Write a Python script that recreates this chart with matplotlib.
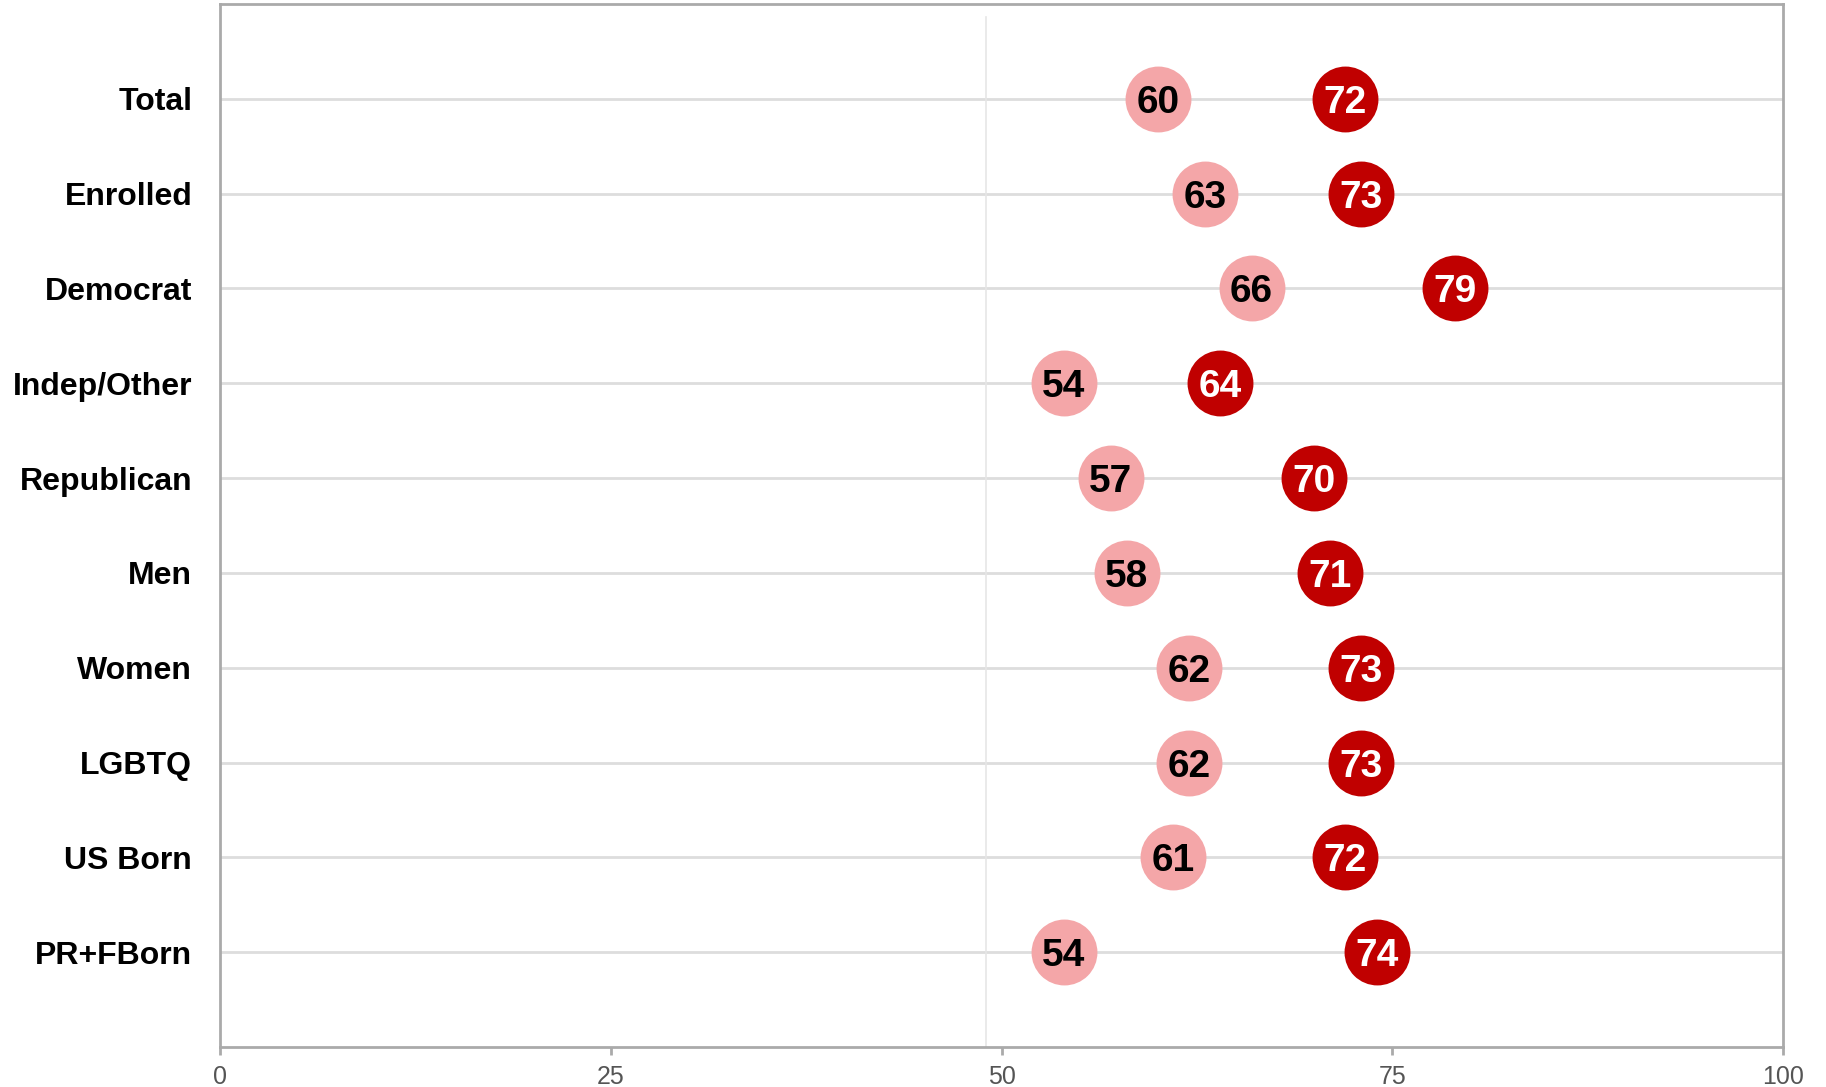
import matplotlib
matplotlib.use("Agg")
import matplotlib.pyplot as plt

plt.rcParams['font.family'] = ['Liberation Sans', 'DejaVu Sans']

categories = ["Total", "Enrolled", "Democrat", "Indep/Other", "Republican",
              "Men", "Women", "LGBTQ", "US Born", "PR+FBorn"]
series_light = [60, 63, 66, 54, 57, 58, 62, 62, 61, 54]
series_dark = [72, 73, 79, 64, 70, 71, 73, 73, 72, 74]
x_ticks = [0, 25, 50, 75, 100]
ref_line = 49

light_color = "#F4A6A8"
dark_color = "#C00000"

fig = plt.figure(figsize=(18.26, 10.87), dpi=100)
ax = fig.add_axes([220/1826, 1 - 1047/1087, (1783-220)/1826, (1047-4)/1087])

ypos = list(range(len(categories)))
for y in ypos:
    ax.axhline(y, color="#DDDDDD", lw=2, zorder=1)
ax.axvline(ref_line, ymin=0, ymax=0.9875, color="#E6E6E6", lw=1.2, zorder=1)

ax.scatter(series_light, ypos, s=2250, color=light_color, zorder=3, linewidths=0)
ax.scatter(series_dark, ypos, s=2250, color=dark_color, zorder=3, linewidths=0)
for y, v in zip(ypos, series_light):
    ax.text(v, y, str(v), ha="center", va="center_baseline", fontsize=28,
            fontweight="bold", color="black", zorder=4)
for y, v in zip(ypos, series_dark):
    ax.text(v, y, str(v), ha="center", va="center_baseline", fontsize=28,
            fontweight="bold", color="white", zorder=4)

ax.set_xlim(0, 100)
ax.set_ylim(len(categories), -1)
ax.set_xticks(x_ticks)
ax.set_xticklabels([str(t) for t in x_ticks], fontsize=18, color="#555555")
ax.set_yticks(ypos)
ax.set_yticklabels(categories, fontsize=23, fontweight="bold", color="black")
ax.tick_params(axis="x", length=6, width=2, color="#AAAAAA", pad=7)
ax.tick_params(axis="y", length=0, pad=20)
for sp in ax.spines.values():
    sp.set_color("#AAAAAA")
    sp.set_linewidth(2)

fig.savefig("out.png", dpi=100)
